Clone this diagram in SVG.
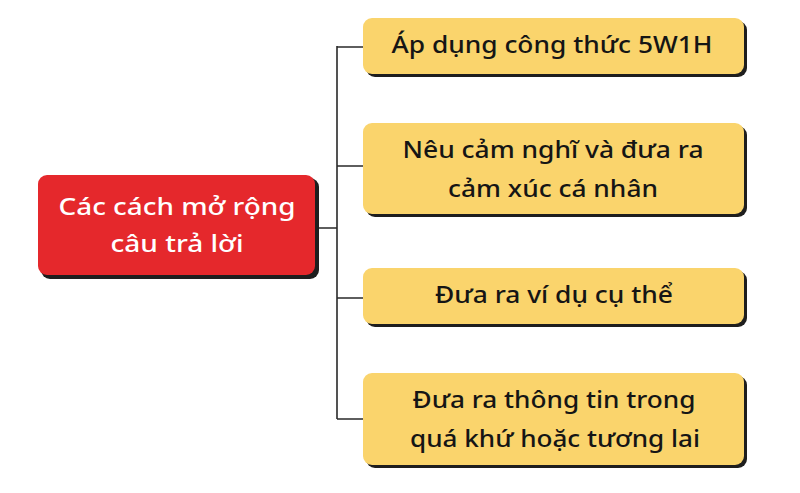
<svg xmlns="http://www.w3.org/2000/svg" width="800" height="493" viewBox="0 0 800 493">
<style>
.sh{fill:#1e1e1e}
.red{fill:#E5282C}
.yel{fill:#FAD46C}
.t{font-family:"Noto Sans","Open Sans",sans-serif;font-size:23px;font-weight:500;text-anchor:middle}
.tw{fill:#ffffff}
.tb{fill:#151515}
.ln{stroke:#2a2a2a;stroke-width:1.6;fill:none}
</style>
<rect width="800" height="493" fill="#ffffff"/>
<g id="connectors">
<path class="ln" d="M316 228H337M337 46V419M337 47H364M337 166H364M337 298H364M337 419H364"/>
</g>
<g id="root">
<rect class="sh" x="41" y="178" width="278" height="101" rx="9"/>
<rect class="red" x="38" y="175" width="277" height="100" rx="9"/>
<text class="t tw" x="177" y="215" textLength="237" lengthAdjust="spacingAndGlyphs">Các cách mở rộng</text>
<text class="t tw" x="177" y="252" textLength="133" lengthAdjust="spacingAndGlyphs">câu trả lời</text>
</g>
<g id="n1">
<rect class="sh" x="366" y="21" width="381" height="56" rx="9"/>
<rect class="yel" x="363" y="18" width="381" height="56" rx="9"/>
<text class="t tb" x="552" y="53" textLength="321" lengthAdjust="spacingAndGlyphs">Áp dụng công thức 5W1H</text>
</g>
<g id="n2">
<rect class="sh" x="366" y="126" width="381" height="91" rx="9"/>
<rect class="yel" x="363" y="123" width="381" height="91" rx="9"/>
<text class="t tb" x="553" y="158" textLength="301" lengthAdjust="spacingAndGlyphs">Nêu cảm nghĩ và đưa ra</text>
<text class="t tb" x="553" y="197" textLength="210" lengthAdjust="spacingAndGlyphs">cảm xúc cá nhân</text>
</g>
<g id="n3">
<rect class="sh" x="366" y="271" width="381" height="56" rx="9"/>
<rect class="yel" x="363" y="268" width="381" height="56" rx="9"/>
<text class="t tb" x="554" y="303" textLength="238" lengthAdjust="spacingAndGlyphs">Đưa ra ví dụ cụ thể</text>
</g>
<g id="n4">
<rect class="sh" x="366" y="376" width="381" height="92" rx="9"/>
<rect class="yel" x="363" y="373" width="381" height="92" rx="9"/>
<text class="t tb" x="554" y="408" textLength="283" lengthAdjust="spacingAndGlyphs">Đưa ra thông tin trong</text>
<text class="t tb" x="555" y="447" textLength="290" lengthAdjust="spacingAndGlyphs">quá khứ hoặc tương lai</text>
</g>
</svg>
